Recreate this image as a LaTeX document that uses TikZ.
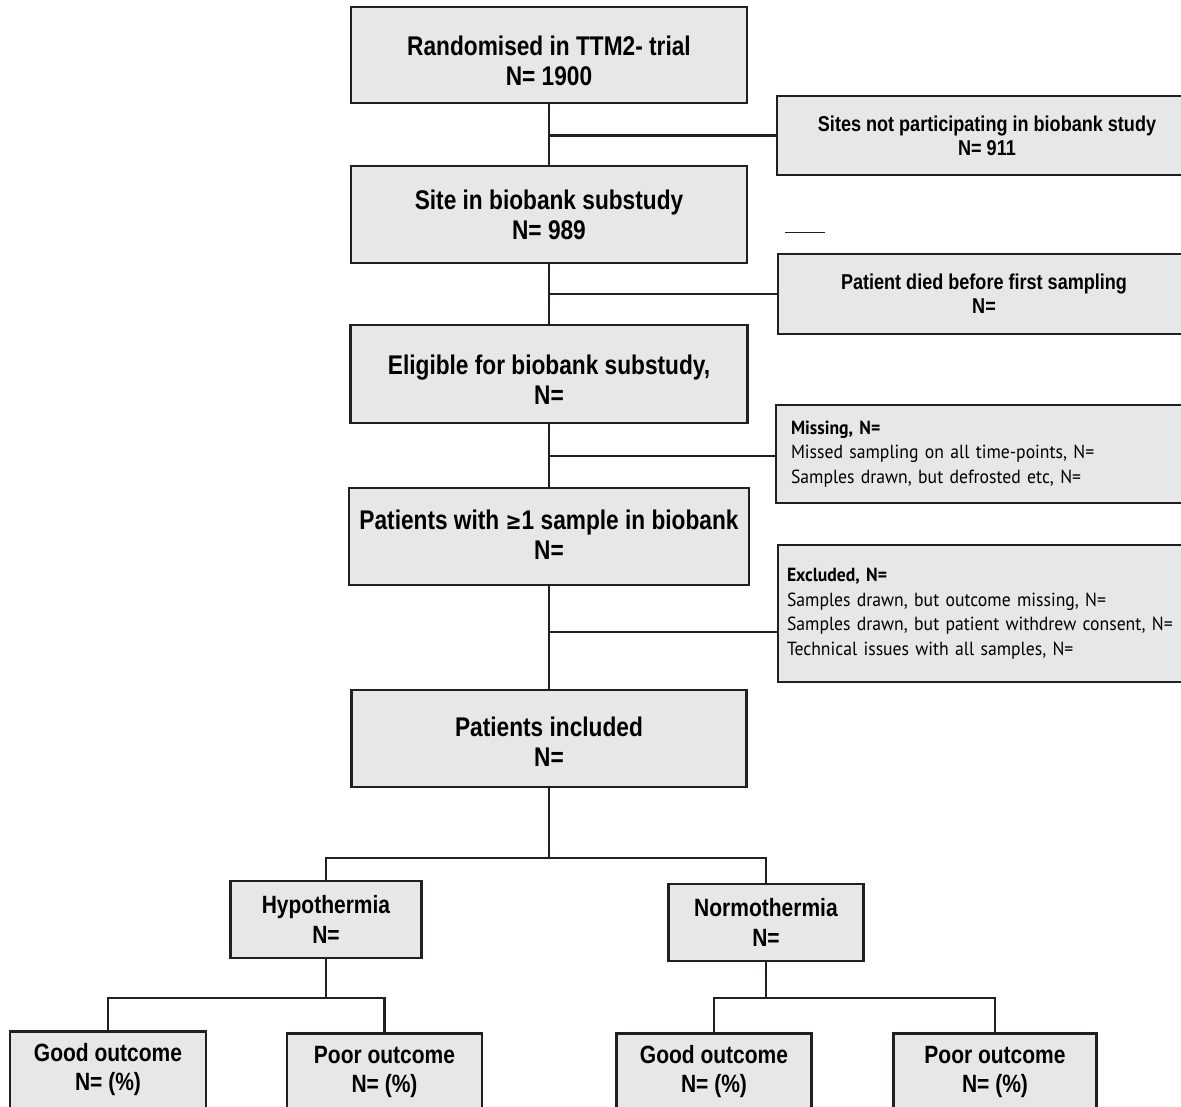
\documentclass[tikz,border=0pt]{standalone}
\usepackage{fontspec}
\newfontfamily\cond{Liberation Sans}[FakeStretch=0.84]
\newfontfamily\myr{PT Sans}[FakeStretch=0.93]
\definecolor{bfill}{HTML}{E6E7E8}
\definecolor{bline}{HTML}{231F20}
\newcommand\padtop[1]{\rule{0pt}{#1}}
\newcommand\padbot[1]{\rule[-#1]{0pt}{0pt}}
\tikzset{
  box/.style={draw=bline, fill=bfill, line width=2.6pt, inner sep=0pt, align=center},
  mainbox/.style={box, font=\cond\bfseries\fontsize{27}{30}\selectfont},
  sidebold/.style={box, font=\cond\bfseries\fontsize{21.5}{24}\selectfont},
  sideplain/.style={box, font=\myr\fontsize{19}{24.5}\selectfont, align=left},
  smallbox/.style={box, font=\cond\bfseries\fontsize{25}{30}\selectfont},
  outbox/.style={box, font=\cond\bfseries\fontsize{25}{29}\selectfont, anchor=north, inner ysep=12.5pt, text depth=80pt},
  conn/.style={draw=bline, line width=2.2pt}
}
\begin{document}
\begin{tikzpicture}[x=1pt,y=-1pt]
\useasboundingbox (0,0) rectangle (1181,1107);
\fill[white] (0,0) rectangle (1181,1107);
\clip (0,0) rectangle (1181,1107);

% main column
\node[mainbox, minimum width=396, minimum height=96] (b1) at (549,55) {\padtop{32pt}Randomised in TTM2- trial\\N= 1900};
\node[mainbox, minimum width=396, minimum height=97] (b2) at (549,214.5) {Site in biobank substudy\\N= 989};
\node[mainbox, minimum width=397, minimum height=98] (b3) at (549,374) {\padtop{30pt}Eligible for biobank substudy,\\N=};
\node[mainbox, minimum width=400, minimum height=97] (b4) at (549,536.5) {Patients with {\fontspec{DejaVu Sans}[FakeStretch=0.8]\bfseries\fontsize{24}{30}\selectfont ≥}1 sample in biobank\\N=\padbot{4pt}};
\node[mainbox, minimum width=395, minimum height=97] (b5) at (549,738.5) {\padtop{26pt}Patients included\\N=};

% side boxes
\node[sidebold, minimum width=420, minimum height=79] (s1) at (987,135.5) {Sites not participating in biobank study\\N= 911};
\node[sidebold, minimum width=412, minimum height=80] (s2) at (984,294) {Patient died before first sampling\\N=};
\node[sideplain, text width=390, inner xsep=15, minimum height=98] (s3) at (986,454) {{\bfseries Missing, N=}\\Missed sampling on all time-points, N=\\Samples drawn, but defrosted etc, N=};
\node[sideplain, text width=400, inner xsep=9, minimum height=137] (s4) at (987,613.5) {{\bfseries Excluded, N=}\\Samples drawn, but outcome missing, N=\\Samples drawn, but patient withdrew consent, N=\\Technical issues with all samples, N=\\[4pt]};

% treatment arms
\node[smallbox, minimum width=191, minimum height=77] (hyp) at (326,919.5) {Hypothermia\\N=};
\node[smallbox, minimum width=195, minimum height=77] (nor) at (766,922.5) {Normothermia\\N=};

% outcome boxes
\node[outbox, minimum width=196] (gl) at (108,1030) {Good outcome\\N= (\%)};
\node[outbox, minimum width=195] (pl) at (384.5,1032) {Poor outcome\\N= (\%)};
\node[outbox, minimum width=195] (gr) at (714,1032) {Good outcome\\N= (\%)};
\node[outbox, minimum width=203] (pr) at (995,1032) {Poor outcome\\N= (\%)};

% trunk
\draw[conn] (b1.south) -- (b2.north);
\draw[conn] (b2.south) -- (b3.north);
\draw[conn] (b3.south) -- (b4.north);
\draw[conn] (b4.south) -- (b5.north);
% side branches
\draw[conn] (b1.south |- s1.west) -- (s1.west);
\draw[conn] (b2.south |- s2.west) -- (s2.west);
\draw[conn] (b3.south |- 0,456) -- (s3.west |- 0,456);
\draw[conn] (b4.south |- 0,632) -- (s4.west |- 0,632);

% split to arms
\draw[conn] (b5.south) -- ++(0,70) coordinate (j1);
\draw[conn] (hyp.north) |- (j1) -| (nor.north);
\draw[conn] (hyp.south) -- ++(0,39) coordinate (j2);
\draw[conn] (gl.north) |- (j2) -| (pl.north);
\draw[conn] (nor.south) -- ++(0,36) coordinate (j3);
\draw[conn] (gr.north) |- (j3) -| (pr.north);

% stray short line
\draw[bline, line width=1pt] (785,233) -- (825,233);
\end{tikzpicture}
\end{document}
